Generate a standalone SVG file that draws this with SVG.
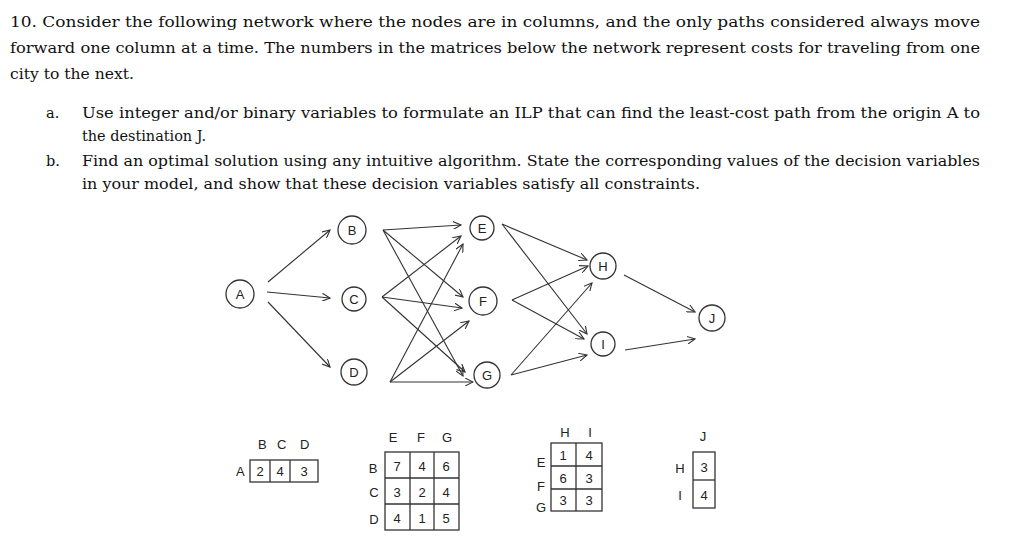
<svg xmlns="http://www.w3.org/2000/svg" width="1024" height="545" viewBox="0 0 1024 545">
<style>
.t{font-family:"DejaVu Serif",serif;font-size:14.5px;fill:#111}
.h{font-family:"Liberation Sans",sans-serif;font-size:13px;fill:#222}
.n circle{fill:none;stroke:#333;stroke-width:1.3}
.e line{stroke:#333;stroke-width:1.1;marker-end:url(#a)}
.m{fill:none;stroke:#333;stroke-width:1.3}
</style>
<defs><marker id="a" markerWidth="9" markerHeight="8" refX="8" refY="4" orient="auto" markerUnits="userSpaceOnUse"><path d="M0,0 L8,4 L0,8" fill="none" stroke="#333" stroke-width="1.1"/></marker></defs>
<rect width="1024" height="545" fill="#fff"/>
<text class="t" x="10" y="27" textLength="970" lengthAdjust="spacingAndGlyphs">10. Consider the following network where the nodes are in columns, and the only paths considered always move</text>
<text class="t" x="10" y="53" textLength="970" lengthAdjust="spacingAndGlyphs">forward one column at a time. The numbers in the matrices below the network represent costs for traveling from one</text>
<text class="t" x="10" y="79" textLength="124" lengthAdjust="spacingAndGlyphs">city to the next.</text>
<text class="t" x="46" y="118">a.</text>
<text class="t" x="82" y="118" textLength="898" lengthAdjust="spacingAndGlyphs">Use integer and/or binary variables to formulate an ILP that can find the least-cost path from the origin A to</text>
<text class="t" x="82" y="141" textLength="124" lengthAdjust="spacingAndGlyphs">the destination J.</text>
<text class="t" x="46" y="166">b.</text>
<text class="t" x="82" y="166" textLength="898" lengthAdjust="spacingAndGlyphs">Find an optimal solution using any intuitive algorithm. State the corresponding values of the decision variables</text>
<text class="t" x="82" y="189" textLength="618" lengthAdjust="spacingAndGlyphs">in your model, and show that these decision variables satisfy all constraints.</text>
<g class="e" id="edges">
<line x1="268" y1="282" x2="330" y2="230"/>
<line x1="267" y1="292" x2="330" y2="298"/>
<line x1="268" y1="302" x2="330" y2="367"/>
<line x1="383" y1="230" x2="461" y2="225"/>
<line x1="383" y1="230" x2="463" y2="297"/>
<line x1="383" y1="230" x2="463" y2="376"/>
<line x1="382" y1="297" x2="461" y2="236"/>
<line x1="382" y1="297" x2="462" y2="308"/>
<line x1="382" y1="297" x2="465" y2="372"/>
<line x1="390" y1="382" x2="463" y2="244"/>
<line x1="390" y1="382" x2="469" y2="321"/>
<line x1="390" y1="382" x2="473" y2="382"/>
<line x1="502" y1="224" x2="587" y2="260"/>
<line x1="502" y1="224" x2="587" y2="334"/>
<line x1="512" y1="300" x2="588" y2="266"/>
<line x1="512" y1="300" x2="584" y2="339"/>
<line x1="511" y1="375" x2="592" y2="283"/>
<line x1="511" y1="375" x2="587" y2="355"/>
<line x1="624" y1="275" x2="695" y2="312"/>
<line x1="625" y1="350" x2="695" y2="339"/>
</g>
<g class="n" id="A"><circle cx="240" cy="294" r="14"/><text class="h" x="240" y="299" text-anchor="middle">A</text></g>
<g class="n" id="B"><circle cx="352" cy="230" r="14"/><text class="h" x="352" y="235" text-anchor="middle">B</text></g>
<g class="n" id="C"><circle cx="354" cy="299" r="12"/><text class="h" x="354" y="304" text-anchor="middle">C</text></g>
<g class="n" id="D"><circle cx="354" cy="372" r="13"/><text class="h" x="354" y="377" text-anchor="middle">D</text></g>
<g class="n" id="E"><circle cx="482" cy="228" r="12"/><text class="h" x="482" y="233" text-anchor="middle">E</text></g>
<g class="n" id="F"><circle cx="483" cy="301" r="14"/><text class="h" x="483" y="306" text-anchor="middle">F</text></g>
<g class="n" id="G"><circle cx="487" cy="375" r="13"/><text class="h" x="487" y="380" text-anchor="middle">G</text></g>
<g class="n" id="H"><circle cx="603" cy="266" r="13"/><text class="h" x="603" y="271" text-anchor="middle">H</text></g>
<g class="n" id="I"><circle cx="603" cy="344" r="12"/><text class="h" x="603" y="349" text-anchor="middle">I</text></g>
<g class="n" id="J"><circle cx="712" cy="318" r="13"/><text class="h" x="712" y="323" text-anchor="middle">J</text></g>
<g id="m1">
<text class="h" x="258" y="449">B</text><text class="h" x="277" y="449">C</text><text class="h" x="300" y="449">D</text>
<text class="h" x="236" y="476">A</text>
<rect class="m" x="250" y="460" width="68" height="22"/><line class="m" x1="270" y1="460" x2="270" y2="482"/><line class="m" x1="290" y1="460" x2="290" y2="482"/>
<text class="h" x="260" y="476" text-anchor="middle">2</text><text class="h" x="280" y="476" text-anchor="middle">4</text><text class="h" x="304" y="476" text-anchor="middle">3</text>
</g>
<g id="m2">
<text class="h" x="393" y="442" text-anchor="middle">E</text><text class="h" x="421" y="442" text-anchor="middle">F</text><text class="h" x="447" y="442" text-anchor="middle">G</text>
<text class="h" x="373" y="473" text-anchor="middle">B</text><text class="h" x="374" y="497" text-anchor="middle">C</text><text class="h" x="374" y="524" text-anchor="middle">D</text>
<rect class="m" x="385" y="452" width="74" height="78"/>
<line class="m" x1="410" y1="452" x2="410" y2="530"/><line class="m" x1="434" y1="452" x2="434" y2="530"/>
<line class="m" x1="385" y1="478" x2="459" y2="478"/><line class="m" x1="385" y1="504" x2="459" y2="504"/>
<text class="h" x="397" y="471" text-anchor="middle">7</text><text class="h" x="422" y="471" text-anchor="middle">4</text><text class="h" x="446" y="471" text-anchor="middle">6</text>
<text class="h" x="397" y="497" text-anchor="middle">3</text><text class="h" x="422" y="497" text-anchor="middle">2</text><text class="h" x="446" y="497" text-anchor="middle">4</text>
<text class="h" x="397" y="523" text-anchor="middle">4</text><text class="h" x="422" y="523" text-anchor="middle">1</text><text class="h" x="446" y="523" text-anchor="middle">5</text>
</g>
<g id="m3">
<text class="h" x="565" y="437" text-anchor="middle">H</text><text class="h" x="590" y="437" text-anchor="middle">I</text>
<text class="h" x="541" y="467" text-anchor="middle">E</text><text class="h" x="541" y="491" text-anchor="middle">F</text><text class="h" x="541" y="512" text-anchor="middle">G</text>
<rect class="m" x="551" y="443" width="51" height="68"/>
<line class="m" x1="576" y1="443" x2="576" y2="511"/>
<line class="m" x1="551" y1="466" x2="602" y2="466"/><line class="m" x1="551" y1="489" x2="602" y2="489"/>
<text class="h" x="563" y="460" text-anchor="middle">1</text><text class="h" x="589" y="460" text-anchor="middle">4</text>
<text class="h" x="563" y="483" text-anchor="middle">6</text><text class="h" x="589" y="483" text-anchor="middle">3</text>
<text class="h" x="563" y="505" text-anchor="middle">3</text><text class="h" x="589" y="505" text-anchor="middle">3</text>
</g>
<g id="m4">
<text class="h" x="703" y="441" text-anchor="middle">J</text>
<text class="h" x="680" y="473" text-anchor="middle">H</text><text class="h" x="680" y="500" text-anchor="middle">I</text>
<rect class="m" x="693" y="452" width="22" height="56"/><line class="m" x1="693" y1="480" x2="715" y2="480"/>
<text class="h" x="704" y="472" text-anchor="middle">3</text><text class="h" x="704" y="500" text-anchor="middle">4</text>
</g>
</svg>
